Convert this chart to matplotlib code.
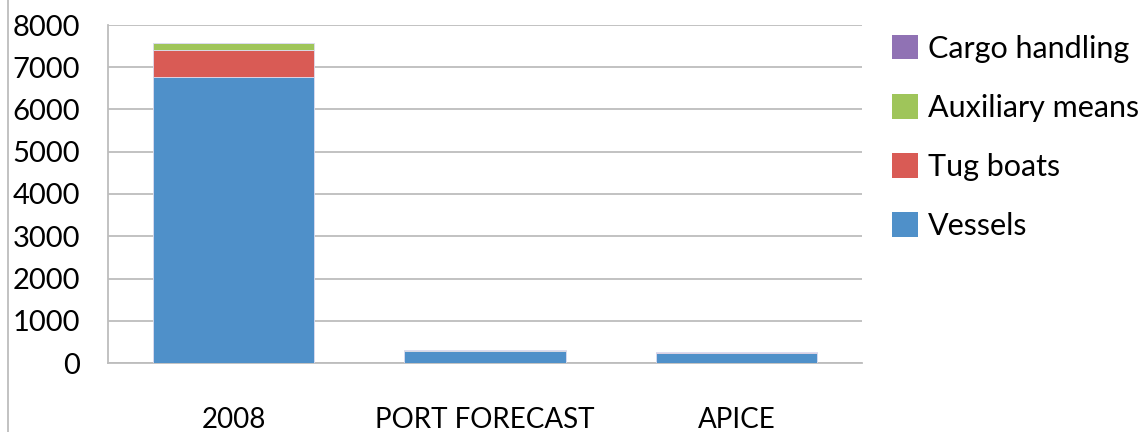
import matplotlib.pyplot as plt
from matplotlib.patches import Patch
import numpy as np

plt.rcParams['font.family'] = ['Lato', 'DejaVu Sans']

categories = ['2008', 'PORT FORECAST', 'APICE']
vessels = [6760, 280, 240]
tug_boats = [640, 10, 25]
auxiliary_means = [170, 20, 5]
cargo_handling = [0, 0, 0]

series = [('Vessels', vessels, '#4f90c9'),
          ('Tug boats', tug_boats, '#d95b55'),
          ('Auxiliary means', auxiliary_means, '#9fc55a'),
          ('Cargo handling', cargo_handling, '#9072b4')]

fig = plt.figure(figsize=(11.47, 4.32), dpi=100)
ax = fig.add_axes([108 / 1147, 1 - 363 / 432, 754 / 1147, 338 / 432])

x = np.arange(len(categories))
bottom = np.zeros(len(categories))
for name, vals, color in series:
    ax.bar(x, vals, width=0.643, bottom=bottom, color=color,
           edgecolor='#dcdcf0', linewidth=0.6, zorder=3)
    bottom += np.array(vals)

ax.set_xlim(-0.5, 2.5)
ax.set_ylim(0, 8000)
ax.set_yticks(range(0, 8001, 1000))
ax.set_xticks(x)
ax.set_xticklabels(categories)
ax.tick_params(axis='y', length=0, labelsize=21, pad=20)
ax.tick_params(axis='x', length=0, labelsize=20, pad=32)
ax.grid(axis='y', color='#bdbdbd', linewidth=1.3, zorder=0)
for s in ['top', 'right']:
    ax.spines[s].set_visible(False)
ax.spines['left'].set_color('#bdbdbd')
ax.spines['bottom'].set_color('#bdbdbd')
ax.spines['left'].set_linewidth(1.3)
ax.spines['bottom'].set_linewidth(1.3)

handles = [Patch(facecolor=c, label=n) for n, _, c in series][::-1]
fig.legend(handles=handles, loc='upper left', bbox_to_anchor=(864 / 1147, 1 - 7 / 432),
           frameon=False, fontsize=22, handlelength=0.88, handleheight=0.88,
           handletextpad=0.3, labelspacing=1.02)

# outer frame line on the left
fig.add_artist(plt.Line2D([8 / 1147, 8 / 1147], [0, 1], color='#bdbdbd', linewidth=1.3))

fig.savefig('out.png', dpi=100)
